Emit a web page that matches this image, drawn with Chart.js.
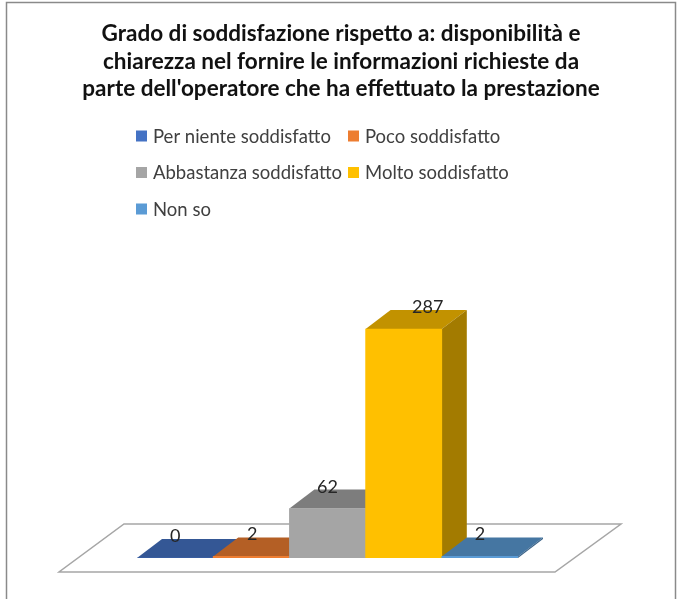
<!DOCTYPE html>
<html>
<head>
<meta charset="utf-8">
<script src="https://cdn.jsdelivr.net/npm/chart.js@4"></script>
<style>
  html, body { margin: 0; padding: 0; background: #fff; }
  #wrap { width: 680px; height: 599px; }
</style>
</head>
<body>
<div id="wrap"><canvas id="chart"></canvas></div>
<script>
// data
const categories = ['Per niente soddisfatto', 'Poco soddisfatto', 'Abbastanza soddisfatto', 'Molto soddisfatto', 'Non so'];
const counts = [0, 2, 62, 287, 2];
const colors = ['#4472C4', '#ED7D31', '#A5A5A5', '#FFC000', '#5B9BD5'];
const titleLines = [
  'Grado di soddisfazione rispetto a: disponibilità e',
  'chiarezza nel fornire le informazioni richieste da',
  "parte dell'operatore che ha effettuato la prestazione"
];

// 3d look
const DX = 25, DY = -19;
const labelShift = [0, 1, 0, 24, 0];
const FONT = 'Lato, "Open Sans", sans-serif';

function shade(hex, f) {
  const n = parseInt(hex.slice(1), 16);
  const r = Math.round(((n >> 16) & 255) * f);
  const g = Math.round(((n >> 8) & 255) * f);
  const b = Math.round((n & 255) * f);
  return `rgb(${r},${g},${b})`;
}

function poly(ctx, pts, fill) {
  ctx.beginPath();
  ctx.moveTo(pts[0][0], pts[0][1]);
  for (let p of pts.slice(1)) ctx.lineTo(p[0], p[1]);
  ctx.closePath();
  ctx.fillStyle = fill;
  ctx.fill();
}

const boxPlugin = {
  id: 'box',
  beforeDraw(chart) {
    const ctx = chart.ctx;
    ctx.save();
    ctx.fillStyle = '#fff';
    ctx.fillRect(0, 0, chart.width, chart.height);
    ctx.strokeStyle = '#8a8a8a';
    ctx.lineWidth = 1.5;
    ctx.strokeRect(6.5, 2.5, 669, 610);

    // title, sized so the long last line is about 518px wide
    ctx.font = 'bold 20px ' + FONT;
    const w = ctx.measureText(titleLines[2]).width;
    const size = 20 * 518 / w;
    ctx.font = `bold ${size}px ${FONT}`;
    ctx.fillStyle = '#111';
    ctx.textAlign = 'center';
    ctx.textBaseline = 'alphabetic';
    titleLines.forEach((t, i) => ctx.fillText(t, 341, 41 + i * 27.5));
    ctx.restore();
  },
  beforeDatasetsDraw(chart) {
    const ctx = chart.ctx;
    const a = chart.chartArea;
    ctx.save();
    // floor
    ctx.beginPath();
    ctx.moveTo(a.left - 78, a.bottom + 14);
    ctx.lineTo(a.right + 37, a.bottom + 14);
    ctx.lineTo(a.right + 103, a.bottom - 34);
    ctx.lineTo(a.left - 13, a.bottom - 34);
    ctx.closePath();
    ctx.fillStyle = '#fff';
    ctx.fill();
    ctx.strokeStyle = '#a6a6a6';
    ctx.lineWidth = 1.5;
    ctx.stroke();
    // top and side faces
    const meta = chart.getDatasetMeta(0);
    meta.data.forEach((bar, i) => {
      const l = bar.x - bar.width / 2, r = bar.x + bar.width / 2;
      const t = bar.y, b = bar.base;
      poly(ctx, [[l, t], [r, t], [r + DX, t + DY], [l + DX, t + DY]], shade(colors[i], 0.76));
      poly(ctx, [[r, t], [r + DX, t + DY], [r + DX, b + DY], [r, b]], shade(colors[i], 0.64));
    });
    ctx.restore();
  },
  afterDatasetsDraw(chart) {
    const ctx = chart.ctx;
    const meta = chart.getDatasetMeta(0);
    ctx.save();
    ctx.font = '18px ' + FONT;
    ctx.fillStyle = '#262626';
    ctx.textAlign = 'center';
    ctx.textBaseline = 'alphabetic';
    meta.data.forEach((bar, i) => {
      ctx.fillText(String(counts[i]), bar.x + labelShift[i], bar.y + DY + 3);
    });
    // legend, two columns
    ctx.font = '18.5px ' + FONT;
    ctx.textAlign = 'left';
    ctx.textBaseline = 'middle';
    categories.forEach((c, i) => {
      const col = i % 2, row = Math.floor(i / 2);
      const x = 136 + col * 212, y = 136 + row * 36.5;
      ctx.fillStyle = colors[i];
      ctx.fillRect(x, y - 5.5, 11, 11);
      ctx.fillStyle = '#404040';
      ctx.fillText(c, x + 17, y + 1);
    });
    ctx.restore();
  }
};

new Chart(document.querySelector('#chart'), {
  type: 'bar',
  data: {
    labels: categories,
    datasets: [{
      data: counts,
      backgroundColor: colors,
      borderWidth: 0,
      barPercentage: 1,
      categoryPercentage: 1
    }]
  },
  options: {
    responsive: true,
    maintainAspectRatio: false,
    animation: false,
    layout: { padding: { left: 137, right: 162, bottom: 41, top: 239 } },
    scales: {
      x: { display: false },
      y: { display: false, min: 0, max: 400 }
    },
    plugins: {
      legend: { display: false },
      tooltip: { enabled: false },
      title: { display: false }
    }
  },
  plugins: [boxPlugin]
});
</script>
</body>
</html>
